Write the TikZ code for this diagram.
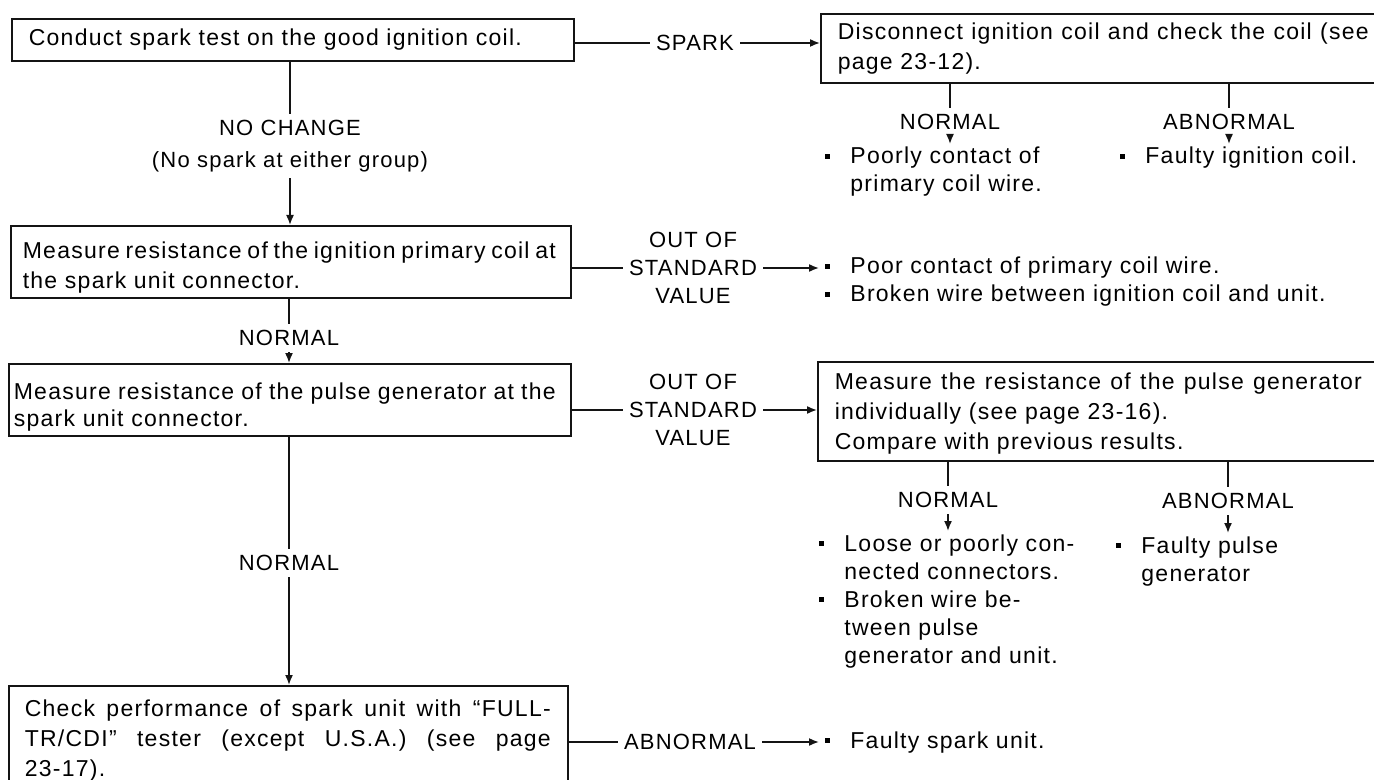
\documentclass[tikz,border=0pt]{standalone}
\usepackage{fontspec}
\setmainfont{Liberation Sans}[LetterSpace=5.5]
\usepackage{tikz}
\usetikzlibrary{arrows.meta,positioning}
\definecolor{IGInk}{HTML}{141414}
\newcommand{\IGdot}{\makebox[12.5pt][l]{\rule[0.22em]{2.4pt}{2.4pt}}}
\newcommand{\IGjust}[2]{{\spaceskip=.28em plus 1fil minus .1em\xspaceskip=.28em plus 1fil minus .1em\relax\makebox[#1][s]{#2}}}
\newcommand{\IGlift}[1]{\rule{0pt}{#1}}

\begin{document}
\begin{tikzpicture}[
    x=0.5pt,y=-0.5pt,font=\fontsize{11.5}{15}\selectfont,
    box/.style={draw=IGInk,line width=0.8pt,anchor=north west,align=left,inner ysep=0pt},
    lbl/.style={align=center,font=\fontsize{11}{14}\selectfont,inner sep=3pt},
    lst/.style={anchor=base west,inner xsep=3pt,inner ysep=0pt,font=\fontsize{11.5}{14}\selectfont},
    link/.style={draw=IGInk,line width=0.8pt},
    arrow/.style={link,-{Latex[length=5pt,width=4pt]}}
  ]
    \useasboundingbox (0,0) rectangle (1374,780);
    \clip (0,0) rectangle (1374,780);

    % main column
    \node[box,minimum height=21pt,inner xsep=8.5pt,text width=264pt] (test) at (11,18)
      {Conduct spark test on the good ignition coil.};
    \node[box,minimum height=36pt,inner xsep=6pt,text width=268pt] (primary) at (10,225)
      {\IGlift{14.5pt}\IGjust{266.5pt}{Measure resistance of the ignition primary coil at}\\the spark unit connector.};
    \node[box,minimum height=36pt,inner xsep=2.5pt,text width=276pt,
      font=\fontsize{11.5}{13.5}\selectfont] (pulse) at (8,363)
      {\IGlift{16pt}\IGjust{271pt}{Measure resistance of the pulse generator at the}\\spark unit connector.};
    \node[box,inner xsep=8pt,inner ysep=7pt,text width=263.5pt] (unit) at (8,685)
      {\IGjust{263pt}{Check performance of spark unit with ``FULL-}\\
       \IGjust{263pt}{TR/CDI'' tester (except U.S.A.) (see page}\\23-17).};

    % right column
    \node[box,minimum height=34.5pt,inner xsep=8.5pt,text width=273pt] (coil) at (820,13)
      {\IGjust{265.5pt}{Disconnect ignition coil and check the coil (see}\\page 23-12).};
    \node[box,minimum height=49.5pt,inner xsep=8.5pt,text width=274.5pt] (indiv) at (817,361)
      {\IGlift{11pt}\IGjust{263.5pt}{Measure the resistance of the pulse generator}\\
       individually (see page 23-16).\\Compare with previous results.};

    % branch labels
    \node[lbl] (lspark) at (695,43) {SPARK};
    \node[lbl,font=\fontsize{11}{16}\selectfont] (lnochange) at (290,146) {NO CHANGE\\(No spark at either group)};
    \node[lbl] (nrmCoil) at (950,122) {NORMAL};
    \node[lbl] (abnCoil) at (1229,122) {ABNORMAL};
    \node[lbl] (oosPrimary) at (693,268) {OUT OF\\STANDARD\\VALUE};
    \node[lbl] (nrmPrimary) at (289,338) {NORMAL};
    \node[lbl] (oosPulse) at (693,410) {OUT OF\\STANDARD\\VALUE};
    \node[lbl] (nrmIndiv) at (948,500) {NORMAL};
    \node[lbl] (abnIndiv) at (1228,501) {ABNORMAL};
    \node[lbl] (nrmPulse) at (289,563) {NORMAL};
    \node[lbl] (abnUnit) at (690,742) {ABNORMAL};

    % results
    \node[lst] (resCoilN) at (819,164)
      {\begin{tabular}[t]{@{}l@{}l@{}}\IGdot & Poorly contact of\\ & primary coil wire.\end{tabular}};
    \node[lst] (resCoilA) at (1114,164)
      {\begin{tabular}[t]{@{}l@{}l@{}}\IGdot & Faulty ignition coil.\end{tabular}};
    \node[lst] (resPrimary) at (819,274)
      {\begin{tabular}[t]{@{}l@{}l@{}}\IGdot & Poor contact of primary coil wire.\\
       \IGdot & Broken wire between ignition coil and unit.\end{tabular}};
    \node[lst] (resIndivN) at (813,551)
      {\begin{tabular}[t]{@{}l@{}l@{}}\IGdot & Loose or poorly con-\\ & nected connectors.\\
       \IGdot & Broken wire be-\\ & tween pulse\\ & generator and unit.\end{tabular}};
    \node[lst] (resIndivA) at (1110,553)
      {\begin{tabular}[t]{@{}l@{}l@{}}\IGdot & Faulty pulse\\ & generator\end{tabular}};
    \node[lst] (resUnit) at (819,748)
      {\begin{tabular}[t]{@{}l@{}l@{}}\IGdot & Faulty spark unit.\end{tabular}};

    % connectors
    \draw[link] (test.south -| lnochange) -- (lnochange.north);
    \draw[arrow] (lnochange.south) -- (lnochange |- primary.north);
    \draw[link] (test.east |- lspark) -- (lspark.west);
    \draw[arrow] (lspark.east) -- (coil.west |- lspark);
    \draw[link] (coil.south -| nrmCoil) -- (nrmCoil.north);
    \draw[arrow] (nrmCoil.south) -- (nrmCoil |- resCoilN.north);
    \draw[link] (coil.south -| abnCoil) -- (abnCoil.north);
    \draw[arrow] (abnCoil.south) -- (abnCoil |- resCoilA.north);
    \draw[link] (primary.east |- oosPrimary) -- (oosPrimary.west);
    \draw[arrow] (oosPrimary.east) -- (resPrimary.west |- oosPrimary);
    \draw[link] (primary.south -| nrmPrimary) -- (nrmPrimary.north);
    \draw[arrow] (nrmPrimary.south) -- (nrmPrimary |- pulse.north);
    \draw[link] (pulse.east |- oosPulse) -- (oosPulse.west);
    \draw[arrow] (oosPulse.east) -- (indiv.west |- oosPulse);
    \draw[link] (indiv.south -| nrmIndiv) -- (nrmIndiv.north);
    \draw[arrow] (nrmIndiv.south) -- (nrmIndiv |- resIndivN.north);
    \draw[link] (indiv.south -| abnIndiv) -- (abnIndiv.north);
    \draw[arrow] (abnIndiv.south) -- (abnIndiv |- resIndivA.north);
    \draw[link] (pulse.south -| nrmPulse) -- (nrmPulse.north);
    \draw[arrow] (nrmPulse.south) -- (nrmPulse |- unit.north);
    \draw[link] (unit.east |- abnUnit) -- (abnUnit.west);
    \draw[arrow] (abnUnit.east) -- (resUnit.west |- abnUnit);
  \end{tikzpicture}
\end{document}
